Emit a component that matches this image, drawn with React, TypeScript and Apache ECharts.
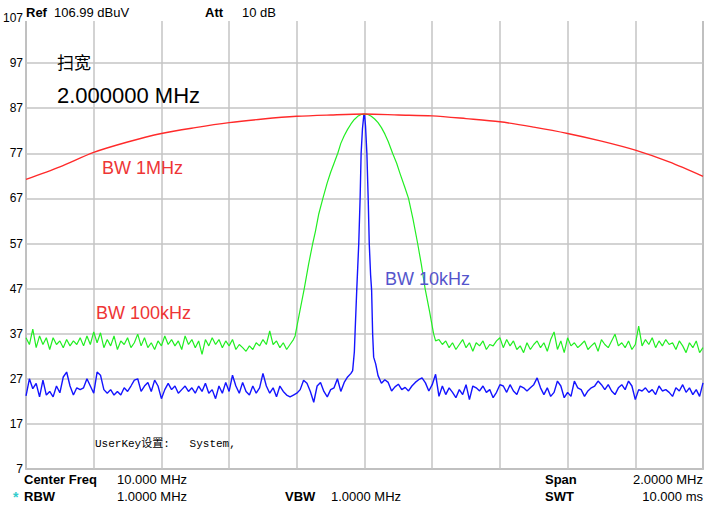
import React, { useEffect, useRef } from "react";
import * as echarts from "echarts";

// Frequency offsets in kHz from the 10 MHz centre; span 2 MHz.
const X_MIN = -1000;
const X_MAX = 1000;
const STEP = 10;

const yTicks = [7, 17, 27, 37, 47, 57, 67, 77, 87, 97, 107];

// BW 1MHz trace (red), one value every 100 kHz from -1000 to 1000
const redOffsets = [-1000, -900, -800, -700, -600, -500, -400, -300, -200, -100, 0, 100, 200, 300, 400, 500, 600, 700, 800, 900, 1000];
const redValues = [71.2, 74, 77.2, 79.5, 81.4, 82.7, 83.8, 84.6, 85.2, 85.5, 85.7, 85.5, 85.3, 84.7, 84, 82.8, 81.4, 79.7, 77.7, 75.1, 71.9];

// BW 100kHz trace (green): noise -1000..-210, peak, noise 210..1000
const greenNoiseLeft = [
  36.1, 34.6, 38, 33.9, 36.5, 34.6, 36.1, 33.5, 36.1, 34.6,
  35.4, 33.9, 35.7, 34.3, 35.4, 34.6, 36.1, 34.3, 36.5, 34.6,
  37.4, 35, 37.2, 33.9, 35.7, 34.3, 36.5, 33.5, 35.4, 34.6,
  36.1, 33.9, 35, 36.9, 34.3, 36.1, 33.9, 35, 33.5, 35.4,
  34.3, 36.5, 34.6, 35.7, 34.3, 35.4, 33.5, 36.5, 34.6, 35.7,
  33.9, 35.4, 32.4, 35.7, 34.3, 36.1, 34.6, 35.7, 33.9, 35.4,
  34.3, 35.7, 33.5, 34.6, 33.9, 33.1, 34.3, 33.5, 35, 34.3,
  35.7, 34.6, 37.6, 34.6, 35.4, 33.9, 35, 33.5, 34.6, 35.7,
];
const greenPeak: [number, number][] = [
  [-205, 36.5], [-200, 38.5], [-190, 42.4], [-178, 47], [-165, 52.5], [-153, 57], [-145, 59.7],
  [-135, 63.6], [-123, 67], [-110, 70.5], [-100, 72.8], [-90, 74.8], [-79, 77], [-70, 79.2],
  [-60, 80.9], [-50, 82.3], [-40, 83.5], [-30, 84.5], [-20, 85.2], [-10, 85.6], [0, 85.7],
  [10, 85.6], [20, 85.2], [30, 84.6], [40, 83.8], [50, 82.7], [60, 81.3], [70, 79.6], [83, 77],
  [95, 74.8], [105, 72.5], [118, 69.7], [130, 67], [143, 62.5], [157, 57], [168, 52.3],
  [179, 47], [192, 42], [204, 37],
];
const greenNoiseRight = [
  35.4, 35.7, 34.6, 35.4, 33.9, 35, 33.5, 34.6, 35.7, 33.9,
  35, 33.1, 35, 34.3, 35.4, 33.5, 34.6, 34.3, 35.4, 36.1,
  33.9, 35.7, 34.3, 35.4, 33.5, 34.3, 32.8, 35, 33.5, 34.6,
  35.4, 33.9, 35, 33.1, 35.7, 37.4, 33.5, 35.4, 32.8, 36.1,
  34.3, 35, 33.9, 34.6, 35.4, 33.5, 34.3, 35, 33.1, 35.7,
  34.6, 33.9, 35.4, 36.9, 34.3, 35, 33.9, 35.4, 33.5, 34.6,
  38.7, 34.3, 35.7, 34.6, 36.1, 33.9, 35.4, 34.3, 35.7, 34.6,
  35, 33.5, 35.4, 34.3, 32.8, 35, 33.9, 35.4, 32.8, 33.9,
];

// BW 10kHz trace (blue): noise -1000..-40, peak, noise 40..1000
const blueNoiseLeft = [
  23.2, 27, 24.8, 26, 23, 26.7, 23.4, 24.2, 23, 25.4,
  23.9, 27.4, 28.5, 25.4, 23.4, 25, 24.6, 25, 27, 25.4,
  23.8, 28.5, 27.8, 24.6, 23.8, 24.6, 23.4, 24.2, 23.4, 25,
  24.2, 25.4, 26.7, 27, 24.2, 25.4, 26.2, 24.2, 26.7, 25.4,
  22.6, 24.6, 26, 24.6, 25.4, 23.8, 24.6, 25.4, 24.2, 25,
  23.8, 25.4, 24.2, 26, 23.8, 24.6, 22.6, 25.4, 23.8, 26.2,
  24.2, 27.8, 25.4, 23.8, 26.2, 24.2, 23.4, 25.4, 23.8, 25,
  28.2, 25.4, 23.8, 25, 23, 25.4, 24.2, 23.4, 23, 23.4,
  23.8, 24.6, 26.7, 26, 24.2, 21.8, 25.4, 26.2, 24.2, 23,
  24.6, 25, 27, 24.2, 26.2, 27.4, 28.2,
];
const bluePeak: [number, number][] = [
  [-35, 28.8], [-30, 33], [-28, 37], [-23, 46.6], [-17, 57], [-13, 67], [-10, 77], [-6, 82.5],
  [-2, 85.5], [0, 85.7], [3, 83], [7, 77], [11, 66.6], [14, 57], [18, 50], [21, 46.6],
  [24, 37], [27, 31.8], [33, 30.3],
];
const blueNoiseRight = [
  27.7, 26, 26.8, 26.2, 24.3, 25.2, 25.8, 24.6, 25.1, 24.3, 25.4, 26.2, 26.8,
  27.2, 26.1, 24.3, 25.7, 28, 23.1, 25.4, 23.5, 25, 24,
  22.8, 24.6, 23.5, 25.7, 22.4, 25.4, 25, 24.3, 25.4, 24,
  24.6, 22.8, 24, 25.7, 25.4, 24, 25.7, 24.3, 23.5, 25.4,
  25, 24.3, 25, 25.7, 27.2, 25, 23.5, 25, 23.1, 24,
  26.5, 25.4, 22.8, 24, 23.1, 26.5, 25, 24.6, 23.1, 24.3,
  25, 25.4, 26.5, 25.7, 24.6, 25.7, 24.3, 23.5, 25, 25.7,
  24.6, 26.5, 25.4, 22.4, 24.6, 24.3, 25, 24, 24.6, 23.5,
  25.4, 24.3, 24.6, 24, 23.1, 25, 24.3, 25.7, 24, 25,
  23.5, 24.6, 23.1, 26.1,
];

function noisePairs(values: number[], start: number): [number, number][] {
  return values.map((v, i) => [start + i * STEP, v]);
}

const FONT = "'Liberation Sans', Arial, sans-serif";
const CJK = "'Noto Sans CJK SC', 'Liberation Sans', sans-serif";

function txt(text: string, x: number, y: number, font: string, fill: string, align = "left") {
  return {
    type: "text",
    z: 100,
    style: {
      text, x, y, font, fill,
      align, verticalAlign: "middle",
      textAlign: align, textVerticalAlign: "middle",
    },
  };
}

export default function App() {
  const ref = useRef<HTMLDivElement>(null);
  useEffect(() => {
    if (!ref.current) return;
    const chart = echarts.init(ref.current, null, { renderer: "svg" });
    const red = redOffsets.map((o, i) => [o, redValues[i]]);
    const green = [
      ...noisePairs(greenNoiseLeft, -1000),
      ...greenPeak,
      ...noisePairs(greenNoiseRight, 210),
    ];
    const blue = [
      ...noisePairs(blueNoiseLeft, -1000),
      ...bluePeak,
      ...noisePairs(blueNoiseRight, 40),
    ];
    const gridLine = { show: true, lineStyle: { color: "#c4c4c4", width: 1.5 } };
    chart.setOption({
      animation: false,
      backgroundColor: "#ffffff",
      grid: {
        left: 25, right: 10, top: 18, bottom: 39,
        show: true, borderColor: "#9c9c9c", borderWidth: 1.5,
      },
      xAxis: {
        type: "value", min: X_MIN, max: X_MAX, interval: 200,
        axisLabel: { show: false }, axisLine: { show: false }, axisTick: { show: false },
        splitLine: gridLine,
      },
      yAxis: {
        type: "value", min: yTicks[0], max: yTicks[yTicks.length - 1], interval: 10,
        axisLabel: { show: true, margin: 3, fontSize: 12, color: "#000", fontFamily: FONT },
        axisLine: { show: false }, axisTick: { show: false },
        splitLine: gridLine,
      },
      series: [
        {
          type: "line", data: blue, showSymbol: false, symbol: "none",
          lineStyle: { color: "#1414ff", width: 1.4 },
        },
        {
          type: "line", data: green, showSymbol: false, symbol: "none",
          lineStyle: { color: "#22ee22", width: 1.2 },
        },
        {
          type: "line", data: red, showSymbol: false, symbol: "none", smooth: 0.3,
          lineStyle: { color: "#ff2a2a", width: 1.4 },
        },
      ],
      graphic: {
        elements: [
          { type: "rect", z: 99, shape: { x: 24, y: 0, width: 689, height: 21 }, style: { fill: "#ffffff" } },
          txt("Ref", 26, 12, `bold 13px ${FONT}`, "#000"),
          txt("106.99 dBuV", 54, 12, `13px ${FONT}`, "#000"),
          txt("Att", 205, 12, `bold 13px ${FONT}`, "#000"),
          txt("10 dB", 242, 12, `13px ${FONT}`, "#000"),
          txt("扫宽", 57, 61, `17px ${CJK}`, "#000"),
          txt("2.000000 MHz", 57, 95, `22px ${FONT}`, "#000"),
          txt("BW 1MHz", 102, 168, `18px ${FONT}`, "#ee3535"),
          txt("BW 100kHz", 96, 313, `18px ${FONT}`, "#ee3535"),
          txt("BW 10kHz", 385, 279, `18px ${FONT}`, "#5555cc"),
          txt("UserKey设置:   System,", 95, 444, `11px 'Liberation Mono', 'Noto Sans CJK SC', monospace`, "#000"),
          txt("Center Freq", 24, 479, `bold 13px ${FONT}`, "#000"),
          txt("10.000 MHz", 117, 479, `13px ${FONT}`, "#000"),
          txt("Span", 545, 479, `bold 13px ${FONT}`, "#000"),
          txt("2.0000 MHz", 703, 479, `13px ${FONT}`, "#000", "right"),
          txt("*", 13, 497, `bold 14px ${FONT}`, "#33cccc"),
          txt("RBW", 24, 496, `bold 13px ${FONT}`, "#000"),
          txt("1.0000 MHz", 117, 496, `13px ${FONT}`, "#000"),
          txt("VBW", 285, 496, `bold 13px ${FONT}`, "#000"),
          txt("1.0000 MHz", 331, 496, `13px ${FONT}`, "#000"),
          txt("SWT", 545, 496, `bold 13px ${FONT}`, "#000"),
          txt("10.000 ms", 703, 496, `13px ${FONT}`, "#000", "right"),
        ],
      },
    });
    return () => chart.dispose();
  }, []);
  return (
    <div
      ref={ref}
      style={{ position: "fixed", left: 0, top: 0, width: 713, height: 508, background: "#fff" }}
    />
  );
}
